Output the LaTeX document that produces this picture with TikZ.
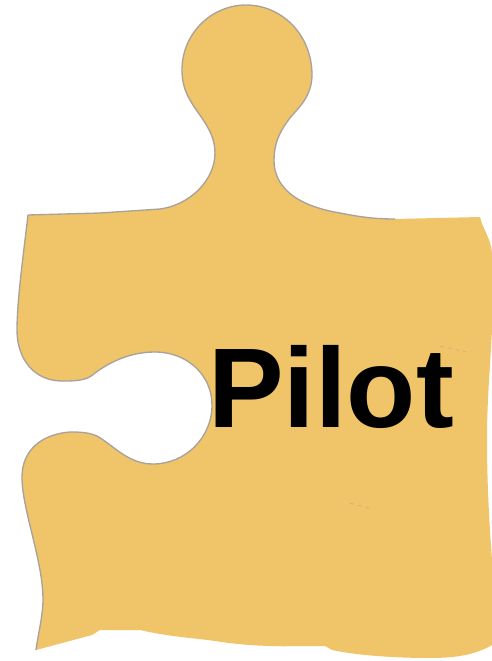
\documentclass[tikz,border=0pt]{standalone}
\usepackage{fontspec}
\setmainfont{Liberation Sans}
\definecolor{piecefill}{HTML}{F0C468}
\definecolor{pieceedge}{HTML}{A8A29A}
\begin{document}
\begin{tikzpicture}[
    x=0.75pt, y=-0.75pt,
    piece/.style={fill=piecefill, draw=none},
    edgeline/.style={draw=pieceedge, line width=1pt, line join=round},
    scratch/.style={draw=piecefill!70!gray, line width=0.5pt, dashed},
    piecelabel/.style={font=\fontsize{85}{85}\selectfont\bfseries, text=black, inner sep=0pt, anchor=base west}
]
    \useasboundingbox (0,0) rectangle (492,661);

    % top with knob, from the corner to the right
    \def\topedge{(28,215) -- (100,213) -- (160,209)
        .. controls (190,205) and (215,180) .. (215,153)
        .. controls (215,130) and (198,115) .. (190,100)
        .. controls (184,90) and (182,80) .. (182,70)
        .. controls (182,33) and (212,5) .. (246,5)
        .. controls (282,5) and (312,35) .. (312,75)
        .. controls (312,100) and (293,112) .. (287,122)
        .. controls (279,133) and (274,145) .. (274,160)
        .. controls (274,195) and (310,208) .. (340,213)
        .. controls (360,217) and (375,219) .. (395,219)}
    % left side with notch, from the same corner down
    \def\sideedge{(28,215)
        .. controls (24,250) and (17,300) .. (17,330)
        .. controls (17,360) and (35,381) .. (62,381)
        .. controls (75,381) and (87,381) .. (95,373)
        .. controls (110,362) and (130,352) .. (155,352)
        .. controls (187,352) and (212,375) .. (212,405)
        .. controls (212,438) and (185,464) .. (153,464)
        .. controls (128,464) and (113,445) .. (97,436)
        .. controls (88,432) and (78,432) .. (70,432)
        .. controls (42,434) and (22,450) .. (22,477)
        .. controls (22,510) and (43,560) .. (43,600)
        .. controls (43,615) and (38,635) .. (36,650)}

    % body
    \fill[piece] \topedge -- (480,217)
        .. controls (483,230) and (492,240) .. (492,255)
        -- (492,330)
        .. controls (490,370) and (487,400) .. (487,440)
        .. controls (487,480) and (489,520) .. (492,560)
        -- (492,645)
        .. controls (475,655) and (455,658) .. (430,658)
        .. controls (400,658) and (360,656) .. (332,650)
        -- (325,646) -- (300,646)
        .. controls (270,647) and (240,645) .. (215,641)
        .. controls (195,638) and (170,637) .. (140,630)
        -- (100,630) -- (92,635) -- (36,650)
        .. controls (38,635) and (43,615) .. (43,600)
        .. controls (43,560) and (22,510) .. (22,477)
        .. controls (22,450) and (42,434) .. (70,432)
        .. controls (78,432) and (88,432) .. (97,436)
        .. controls (113,445) and (128,464) .. (153,464)
        .. controls (185,464) and (212,438) .. (212,405)
        .. controls (212,375) and (187,352) .. (155,352)
        .. controls (130,352) and (110,362) .. (95,373)
        .. controls (87,381) and (75,381) .. (62,381)
        .. controls (35,381) and (17,360) .. (17,330)
        .. controls (17,300) and (24,250) .. (28,215) -- cycle;

    \draw[edgeline] \topedge;
    \draw[edgeline] \sideedge;

    \draw[scratch] (440,346) -- (466,352);
    \draw[scratch] (350,503) -- (371,509);

    \node[piecelabel] (pilot) at (208,427) {Pilot};
\end{tikzpicture}
\end{document}
